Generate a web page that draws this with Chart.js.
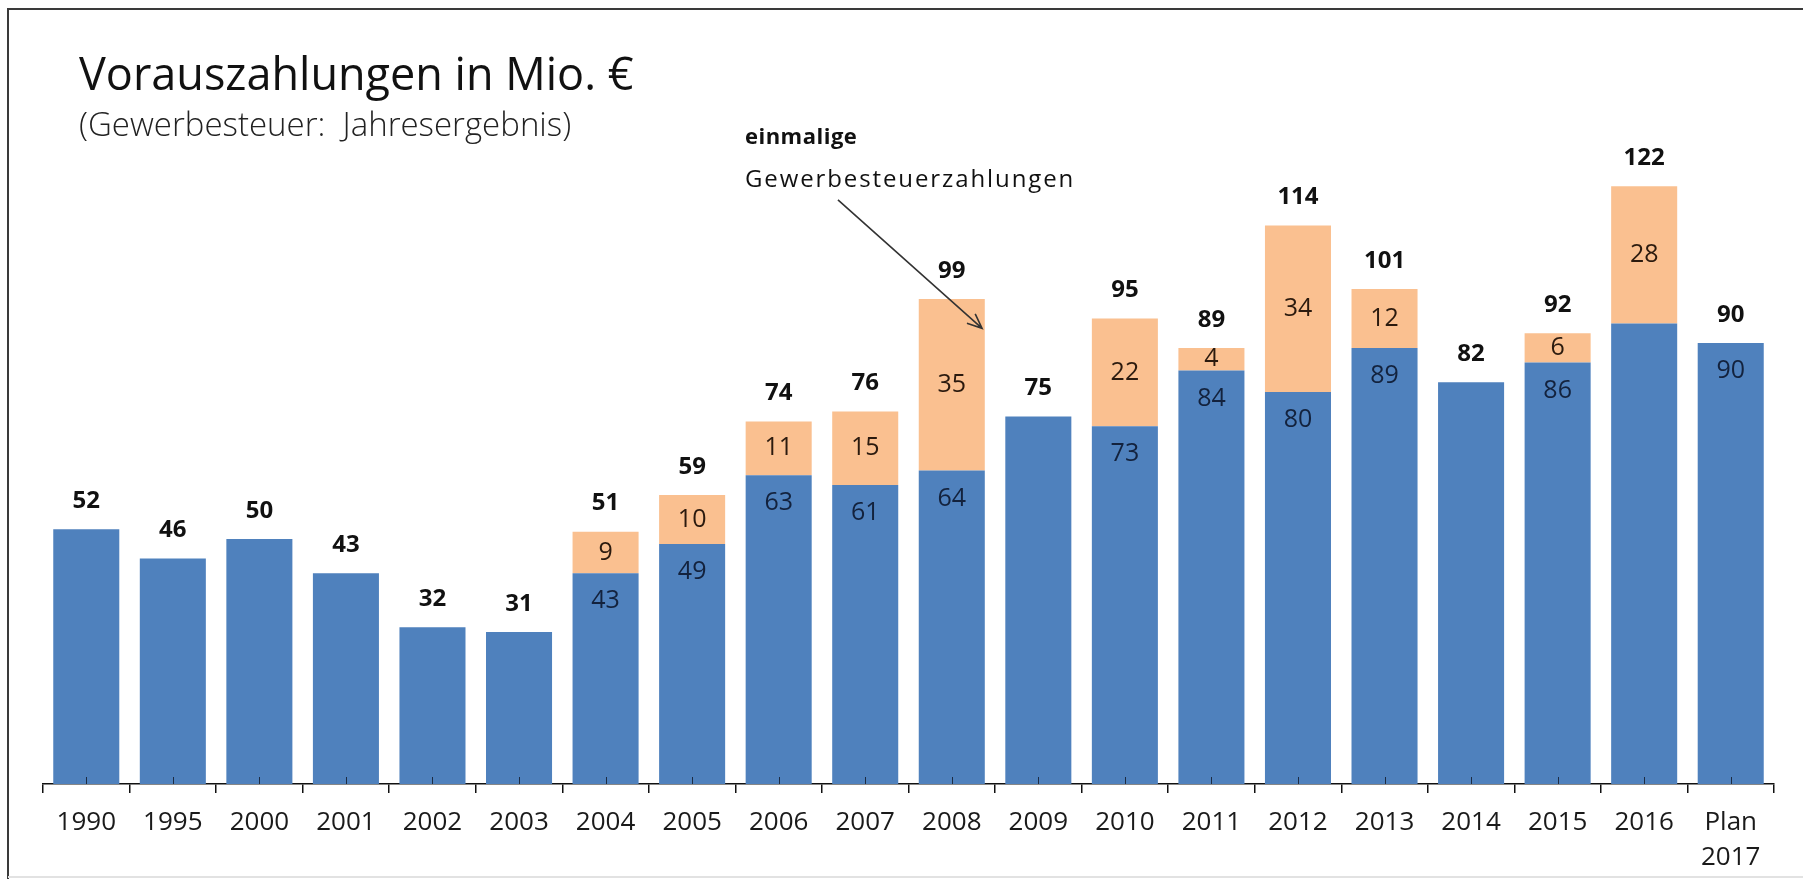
<!DOCTYPE html>
<html>
<head>
<meta charset="utf-8">
<title>Vorauszahlungen in Mio. €</title>
<script src="https://cdn.jsdelivr.net/npm/chart.js@4.4.1/dist/chart.umd.min.js"></script>
<style>
  html, body { margin: 0; padding: 0; background: #fff; }
  #wrap { position: relative; width: 1803px; height: 879px; overflow: hidden; }
  #title { position: absolute; left: 79px; top: 50px; font: 45px/1 "Open Sans", sans-serif; color: #111; white-space: nowrap; }
  #subtitle { position: absolute; left: 79px; top: 107px; font: 300 33px/1 "Open Sans", sans-serif; color: #222; white-space: nowrap; }
</style>
</head>
<body>
<div id="wrap">
  <canvas id="grafica"></canvas>
  <div id="title">Vorauszahlungen in Mio. €</div>
  <div id="subtitle">(Gewerbesteuer:&nbsp; Jahresergebnis)</div>
</div>
<script>
const categories = ['1990','1995','2000','2001','2002','2003','2004','2005','2006','2007','2008','2009','2010','2011','2012','2013','2014','2015','2016',['Plan','2017']];
// Vorauszahlungen ohne Einmaleffekte (blau)
const regular = [52,46,50,43,32,31,43,49,63,61,64,75,73,84.4,80,89,82,86,94,90];
// einmalige Gewerbesteuerzahlungen (orange)
const oneOff = [0,0,0,0,0,0,8.5,10,11,15,35,0,22,4.6,34,12,0,6,28,0];
// Beschriftungen wie im Original
const totalLabels = ['52','46','50','43','32','31','51','59','74','76','99','75','95','89','114','101','82','92','122','90'];
const regularLabels = [null,null,null,null,null,null,'43','49','63','61','64',null,'73','84','80','89',null,'86',null,'90'];
const oneOffLabels = [null,null,null,null,null,null,'9','10','11','15','35',null,'22','4','34','12',null,'6','28',null];
// Hinweis mit Pfeil (x = Kategorie-Index, y = Wert)
const noteLines = ['einmalige', 'Gewerbesteuerzahlungen'];
const noteText = { x: 7.61, y1: 130.7, y2: 121.8 };
const noteArrow = { fromX: 8.685, fromY: 119.2, toX: 10.35, toY: 93 };

const labelPlugin = {
  id: 'labelPlugin',
  beforeDraw(chart) {
    const ctx = chart.ctx;
    ctx.save();
    ctx.fillStyle = '#fff';
    ctx.fillRect(0, 0, chart.width, chart.height);
    ctx.strokeStyle = '#3a3a3a';
    ctx.lineWidth = 2;
    ctx.beginPath();
    ctx.moveTo(8, chart.height);
    ctx.lineTo(8, 9);
    ctx.lineTo(chart.width, 9);
    ctx.stroke();
    ctx.strokeStyle = '#e2e2e2';
    ctx.beginPath();
    ctx.moveTo(8, chart.height - 2);
    ctx.lineTo(chart.width, chart.height - 2);
    ctx.stroke();
    ctx.restore();
  },
  afterDatasetsDraw(chart) {
    const ctx = chart.ctx;
    const x = chart.scales.x;
    const y = chart.scales.y;
    const blue = chart.getDatasetMeta(0).data;
    ctx.save();
    // kleine Striche in der Balkenmitte
    ctx.strokeStyle = '#1c2c44';
    ctx.lineWidth = 1;
    for (let i = 0; i < categories.length; i++) {
      const px = Math.round(x.getPixelForValue(i)) + 0.5;
      ctx.beginPath();
      ctx.moveTo(px, y.bottom);
      ctx.lineTo(px, y.bottom - 7);
      ctx.stroke();
    }
    ctx.textAlign = 'center';
    ctx.textBaseline = 'middle';
    for (let i = 0; i < categories.length; i++) {
      const cx = blue[i].x;
      const top = y.getPixelForValue(regular[i] + oneOff[i]);
      ctx.font = 'bold 24px "Open Sans"';
      ctx.fillStyle = '#111';
      ctx.fillText(totalLabels[i], cx, top - 28);
      ctx.font = '25px "Open Sans"';
      if (regularLabels[i]) {
        ctx.fillStyle = '#13223d';
        ctx.fillText(regularLabels[i], cx, y.getPixelForValue(regular[i]) + 28);
      }
      if (oneOffLabels[i]) {
        ctx.fillStyle = '#2b1a0e';
        ctx.fillText(oneOffLabels[i], cx, y.getPixelForValue(regular[i] + oneOff[i] / 2));
      }
    }
    // Hinweis
    const tx = x.getPixelForValue(noteText.x);
    ctx.textAlign = 'left';
    ctx.textBaseline = 'alphabetic';
    ctx.fillStyle = '#111';
    ctx.font = 'bold 22px "Open Sans"';
    ctx.letterSpacing = '0.5px';
    ctx.fillText(noteLines[0], tx, y.getPixelForValue(noteText.y1));
    ctx.font = '24px "Open Sans"';
    ctx.letterSpacing = '1.9px';
    ctx.fillText(noteLines[1], tx, y.getPixelForValue(noteText.y2));
    ctx.letterSpacing = '0px';
    const ax = x.getPixelForValue(noteArrow.fromX), ay = y.getPixelForValue(noteArrow.fromY);
    const bx = x.getPixelForValue(noteArrow.toX), by = y.getPixelForValue(noteArrow.toY);
    const ang = Math.atan2(by - ay, bx - ax);
    ctx.strokeStyle = '#333';
    ctx.lineWidth = 1.6;
    ctx.beginPath();
    ctx.moveTo(ax, ay);
    ctx.lineTo(bx, by);
    ctx.moveTo(bx - 16 * Math.cos(ang - 0.4), by - 16 * Math.sin(ang - 0.4));
    ctx.lineTo(bx, by);
    ctx.lineTo(bx - 16 * Math.cos(ang + 0.4), by - 16 * Math.sin(ang + 0.4));
    ctx.stroke();
    ctx.restore();
  }
};

const context = document.getElementById('grafica').getContext('2d');
const config = {
  type: 'bar',
  data: {
    labels: categories,
    datasets: [{
      data: regular,
      backgroundColor: '#4f81bd',
      categoryPercentage: 1,
      barPercentage: 0.763
    }, {
      data: oneOff,
      backgroundColor: '#fac090',
      categoryPercentage: 1,
      barPercentage: 0.763
    }]
  },
  options: {
    responsive: true,
    maintainAspectRatio: false,
    animation: false,
    devicePixelRatio: 1,
    layout: { padding: { left: 43, right: 29, top: 98, bottom: 0 } },
    plugins: { legend: { display: false }, tooltip: { enabled: false } },
    scales: {
      x: {
        stacked: true,
        offset: true,
        grid: { drawOnChartArea: false, drawTicks: true, tickLength: 9, color: '#111', lineWidth: 1.5, offset: true },
        border: { display: true, color: '#111', width: 1.5 },
        ticks: {
          autoSkip: false, maxRotation: 0, padding: 12, color: '#1a1a1a',
          font: { family: '"Open Sans"', size: 26, lineHeight: 1.35 }
        },
        afterFit(scale) { scale.height = 95; }
      },
      y: {
        stacked: true,
        display: false,
        min: 0,
        max: 140
      }
    }
  },
  plugins: [labelPlugin]
};
window.myChart = new Chart(context, config);
</script>
</body>
</html>
